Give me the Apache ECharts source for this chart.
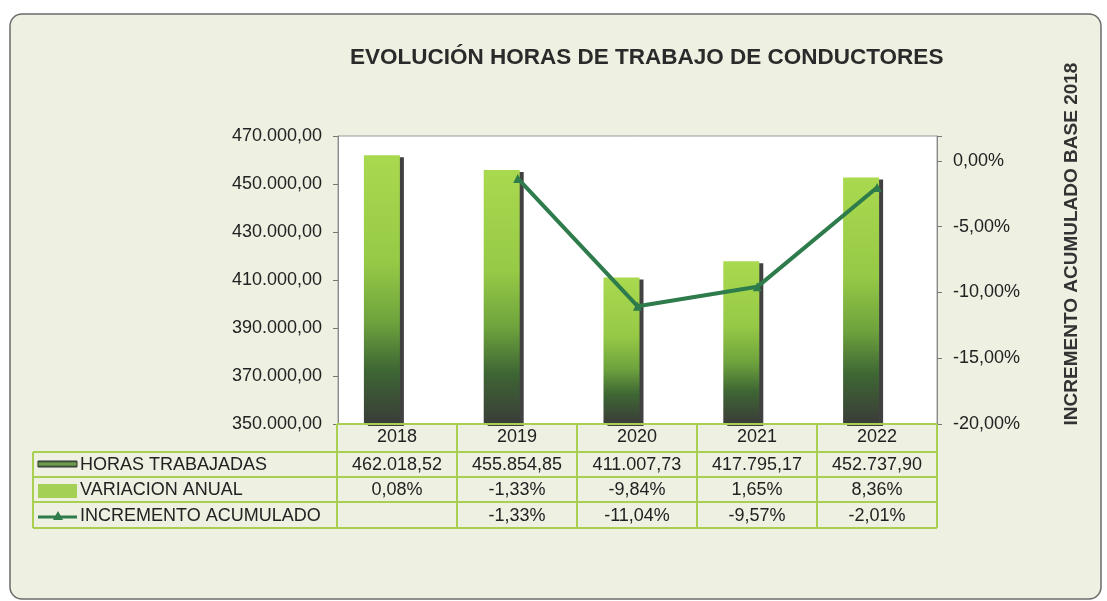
<!DOCTYPE html>
<html>
<head>
<meta charset="utf-8">
<script src="https://cdn.jsdelivr.net/npm/echarts@6/dist/echarts.min.js"></script>
<style>
  html, body { margin: 0; padding: 0; background: #fff; }
  #chart { width: 1107px; height: 601px; }
</style>
</head>
<body>
<div id="chart"></div>
<script>
// datos
const years = ['2018', '2019', '2020', '2021', '2022'];
const horas = [462018.52, 455854.85, 411007.73, 417795.17, 452737.90];
const variacion = [0.08, -1.33, -9.84, 1.65, 8.36];          // %
const incremento = [null, -1.33, -11.04, -9.57, -2.01];      // %
const rowLabels = ['HORAS TRABAJADAS', 'VARIACION ANUAL', 'INCREMENTO ACUMULADO'];

const FONT = '"Liberation Sans", Arial, sans-serif';
const TXT = '#222';
const LIME = '#a8cf52';
const LINE_GREEN = '#2e7b4b';

function fmtNum(v, dec) {
    const parts = Math.abs(v).toFixed(dec).split('.');
    const ent = parts[0].replace(/\B(?=(\d{3})+(?!\d))/g, '.');
    return (v < 0 && Math.abs(v) >= 0.005 ? '-' : '') + ent + (dec ? ',' + parts[1] : '');
}
const fmtPct = v => v == null ? '' : fmtNum(v, 2) + '%';

// tabla de datos debajo del grafico
const col0 = 337, colW = 120, headTop = 424;
const rowY = [452, 477, 502, 528];
const graphics = [];

// fondo del panel
graphics.push({
    type: 'rect', z: -10, silent: true,
    shape: {x: 10, y: 14, width: 1091, height: 585, r: 12},
    style: {fill: '#eef0e2', stroke: '#6b6b6b', lineWidth: 1.5}
});

const hline = (y, x1, x2) => ({type: 'line', z: 5, shape: {x1, y1: y, x2, y2: y}, style: {stroke: LIME, lineWidth: 2}});
const vline = (x, y1, y2) => ({type: 'line', z: 5, shape: {x1: x, y1, x2: x, y2}, style: {stroke: LIME, lineWidth: 2}});
const txt = (text, x, y, align, extra) => ({
    type: 'text', z: 6, x, y,
    style: Object.assign({text, font: '18px ' + FONT, fill: TXT, align, verticalAlign: 'middle'}, extra || {})
});

graphics.push(hline(headTop, col0, col0 + colW * years.length));
rowY.forEach(y => graphics.push(hline(y, 33, col0 + colW * years.length)));
graphics.push(vline(33, rowY[0], rowY[3]));
for (let k = 0; k <= years.length; k++) graphics.push(vline(col0 + colW * k, headTop, rowY[3]));

const rows = [horas.map(v => fmtNum(v, 2)), variacion.map(fmtPct), incremento.map(fmtPct)];
years.forEach((y, i) => {
    const cx = col0 + colW * i + colW / 2;
    graphics.push(txt(y, cx, 437, 'center'));
    rows.forEach((r, j) => graphics.push(txt(r[i], cx, (rowY[j] + rowY[j + 1]) / 2 + 1, 'center')));
});
rowLabels.forEach((l, j) => graphics.push(txt(l, 80, (rowY[j] + rowY[j + 1]) / 2 + 1, 'left')));

// claves de la leyenda
graphics.push({
    type: 'rect', z: 6, shape: {x: 38, y: 461, width: 39, height: 6},
    style: {
        fill: new echarts.graphic.LinearGradient(0, 0, 0, 1, [
            {offset: 0, color: '#2c4f28'}, {offset: 0.5, color: '#7aa85a'}, {offset: 1, color: '#2c4f28'}
        ]),
        stroke: '#333', lineWidth: 1
    }
});
graphics.push({type: 'rect', z: 6, shape: {x: 38, y: 484, width: 39, height: 14}, style: {fill: '#a3d055'}});
graphics.push({type: 'line', z: 6, shape: {x1: 38, y1: 517, x2: 77, y2: 517}, style: {stroke: LINE_GREEN, lineWidth: 3}});
graphics.push({type: 'polygon', z: 6, shape: {points: [[58, 511], [53, 520], [63, 520]]}, style: {fill: LINE_GREEN}});

// titulo del eje derecho
graphics.push({
    type: 'text', z: 6, x: 1072, y: 244, rotation: Math.PI / 2,
    style: {text: 'INCREMENTO ACUMULADO BASE 2018', font: 'bold 19px ' + FONT, fill: '#333', align: 'center', verticalAlign: 'middle'}
});

const option = {
    animation: false,
    title: {
        text: 'EVOLUCIÓN HORAS DE TRABAJO DE CONDUCTORES',
        left: 345, top: 41,
        textStyle: {fontFamily: FONT, fontSize: 22.5, fontWeight: 'bold', color: '#2a2a2a'}
    },
    grid: [
        {left: 338, top: 136, width: 599, height: 288, show: true, backgroundColor: '#fff', borderColor: '#9a9a9a', borderWidth: 1},
        {left: 322, top: 136, width: 599, height: 288, show: false}
    ],
    xAxis: [
        {type: 'category', gridIndex: 0, data: years, axisLine: {show: false}, axisTick: {show: false}, axisLabel: {show: false}},
        {type: 'category', gridIndex: 1, data: years, show: false}
    ],
    yAxis: [
        {
            type: 'value', gridIndex: 0, min: 350000, max: 470000, interval: 20000,
            axisLine: {show: true, lineStyle: {color: '#8a8a8a'}},
            axisTick: {show: true, length: 5, lineStyle: {color: '#777'}},
            axisLabel: {margin: 16, fontFamily: FONT, fontSize: 18, color: TXT, formatter: v => fmtNum(v, 2)},
            splitLine: {show: false}
        },
        {
            type: 'value', gridIndex: 0, position: 'right', min: -20, max: 1.9, interval: 5,
            axisLine: {show: true, lineStyle: {color: '#8a8a8a'}},
            axisTick: {show: true, length: 5, lineStyle: {color: '#777'}},
            axisLabel: {margin: 16, fontFamily: FONT, fontSize: 18, color: TXT, formatter: v => v > 0.01 ? '' : fmtPct(v)},
            splitLine: {show: false}
        },
        {type: 'value', gridIndex: 1, min: 350000, max: 470000, show: false}
    ],
    graphic: graphics,
    series: [
        {
            name: 'HORAS TRABAJADAS', type: 'bar', xAxisIndex: 1, yAxisIndex: 2,
            barWidth: 36, data: horas,
            itemStyle: {
                color: new echarts.graphic.LinearGradient(0, 0, 0, 1, [
                    {offset: 0, color: '#a9d94f'},
                    {offset: 0.4, color: '#96c946'},
                    {offset: 0.62, color: '#6ea33d'},
                    {offset: 0.8, color: '#3e6634'},
                    {offset: 1, color: '#3a3c38'}
                ]),
                shadowColor: 'rgba(55,55,55,0.95)', shadowBlur: 0, shadowOffsetX: 4, shadowOffsetY: 2
            }
        },
        {
            name: 'INCREMENTO ACUMULADO', type: 'line', xAxisIndex: 0, yAxisIndex: 1,
            data: incremento, symbol: 'triangle', symbolSize: 9,
            lineStyle: {width: 4, color: LINE_GREEN},
            itemStyle: {color: LINE_GREEN}
        }
    ]
};

const myChart = echarts.init(document.getElementById('chart'));
myChart.setOption(option);
</script>
</body>
</html>
